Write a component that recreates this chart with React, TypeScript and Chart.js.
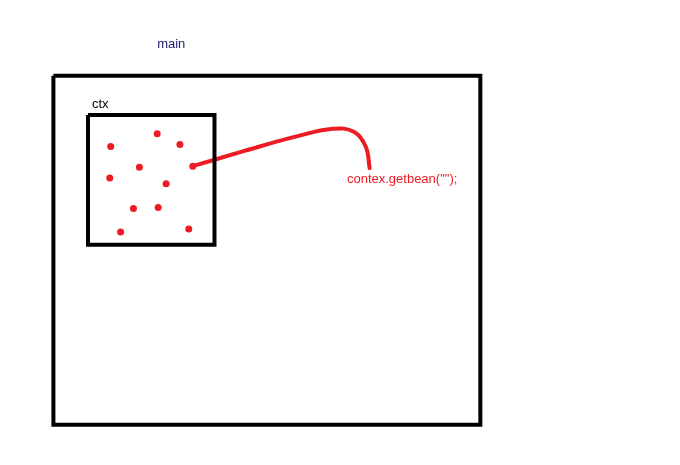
import React, { useEffect, useRef } from "react";
import { Chart, registerables } from "chart.js";
Chart.register(...registerables);

const outerBox = [{ x: 50, y: 73 }, { x: 482, y: 73 }, { x: 482, y: 428 }, { x: 50, y: 428 }, { x: 50, y: 73 }];
const innerBox = [{ x: 85, y: 113 }, { x: 213, y: 113 }, { x: 213, y: 245 }, { x: 85, y: 245 }, { x: 85, y: 113 }];
const beans = [
  { x: 108, y: 145 }, { x: 155, y: 132 }, { x: 178, y: 143 }, { x: 137, y: 166 },
  { x: 191, y: 165 }, { x: 107, y: 177 }, { x: 164, y: 183 }, { x: 131, y: 208 },
  { x: 156, y: 207 }, { x: 118, y: 232 }, { x: 187, y: 229 },
];
const curve = [
  { x: 191, y: 165 }, { x: 245, y: 149 }, { x: 295, y: 135 }, { x: 333, y: 127 },
  { x: 354, y: 130 }, { x: 366, y: 145 }, { x: 370, y: 167 },
];
const labels = [
  { x: 155, y: 41, text: "main", color: "#1a1a6e" },
  { x: 89, y: 102, text: "ctx", color: "#000000" },
  { x: 347, y: 178, text: 'contex.getbean("");', color: "#ed1c24" },
];

const textPlugin = {
  id: "texts",
  afterDatasetsDraw(chart: any) {
    const { ctx, scales } = chart;
    ctx.save();
    ctx.font = "13px 'Liberation Sans', Arial, sans-serif";
    ctx.textBaseline = "middle";
    ctx.textAlign = "left";
    for (const l of labels) {
      ctx.fillStyle = l.color;
      ctx.fillText(l.text, scales.x.getPixelForValue(l.x), scales.y.getPixelForValue(l.y));
    }
    ctx.restore();
  },
};

export default function App() {
  const ref = useRef<HTMLCanvasElement>(null);
  useEffect(() => {
    const chart = new Chart(ref.current!, {
      type: "scatter",
      data: {
        datasets: [
          { data: outerBox, showLine: true, borderColor: "#000", borderWidth: 4, pointRadius: 0, tension: 0 } as any,
          { data: innerBox, showLine: true, borderColor: "#000", borderWidth: 4, pointRadius: 0, tension: 0 } as any,
          { data: curve, showLine: true, borderColor: "#ed1c24", borderWidth: 4, pointRadius: 0, tension: 0.4, borderCapStyle: "round" } as any,
          { data: beans, pointRadius: 3.5, pointBackgroundColor: "#ed1c24", pointBorderColor: "#ed1c24", pointBorderWidth: 0 } as any,
        ],
      },
      options: {
        animation: false,
        responsive: true,
        maintainAspectRatio: false,
        layout: { padding: 0 },
        plugins: { legend: { display: false }, tooltip: { enabled: false } },
        scales: {
          x: { type: "linear", min: 0, max: 680, display: false },
          y: { type: "linear", min: 0, max: 465, reverse: true, display: false },
        },
      },
      plugins: [textPlugin],
    });
    return () => chart.destroy();
  }, []);
  return (
    <div style={{ position: "absolute", left: 0, top: 0, width: 680, height: 465, background: "#fff" }}>
      <canvas ref={ref} />
    </div>
  );
}
